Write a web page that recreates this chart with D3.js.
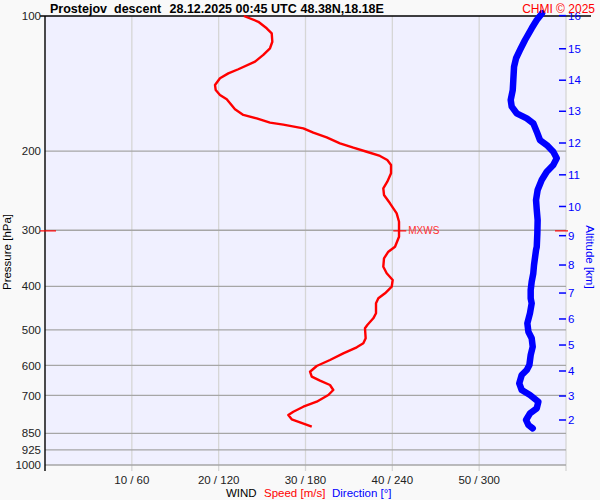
<!DOCTYPE html>
<html><head><meta charset="utf-8">
<script src="https://cdn.jsdelivr.net/npm/d3@7"></script>
<style>html,body{margin:0;padding:0;background:#f9f9f9;} svg{display:block;font-family:"Liberation Sans",Arial,sans-serif;}</style>
</head><body><svg id="c" width="600" height="500"></svg>
<script>
// ---------- data ----------
const pressureTicks = [100, 200, 300, 400, 500, 600, 700, 850, 925, 1000];
const speedGrid = [10, 20, 30, 40, 50, 60];
const speedTickLabels = [10, 20, 30, 40, 50];
const directionTickLabels = [60, 120, 180, 240, 300];
const altitudeKm = [2, 3, 4, 5, 6, 7, 8, 9, 10, 11, 12, 13, 14, 15, 16];
const altitudePressure = [793.9, 702.0, 617.5, 540.5, 472.9, 414.0, 358.6, 308.5, 265.6, 225.8, 191.8, 163.0, 139.0, 118.3, 99.8];

const speedPressure = [100, 103, 106.5, 109.3, 114.1, 118.0, 122.1, 126.4, 131.4, 134.2, 137.6, 142.5, 146.2, 149.9, 153.3, 156.5, 161.4, 166.1, 169.0, 172.8, 174.6, 177.9, 181.9, 186.3, 192.1, 196.5, 200.6, 205.0, 209.3, 214.7, 224.0, 233.9, 241.9, 250.4, 261.3, 275.1, 287.2, 310.1, 326.5, 334.9, 346.5, 361.7, 374.2, 387.3, 400.8, 414.6, 425.4, 436.4, 459.3, 471.3, 487.7, 496.0, 522.2, 535.8, 546.9, 564.0, 583.7, 601.9, 619.8, 635.8, 649.0, 663.5, 680.7, 698.4, 722.8, 741.6, 760.9, 773.9, 791.1, 803.4, 821.7];
const speedValues = [22.9, 24.57, 25.53, 26.11, 26.18, 25.91, 25.14, 24.19, 22.26, 21.11, 20.15, 19.58, 19.66, 20.15, 20.93, 21.31, 21.88, 22.84, 24.38, 25.91, 27.44, 29.75, 30.9, 32.44, 33.97, 35.51, 37.05, 38.58, 39.42, 39.85, 39.85, 39.42, 38.96, 39.04, 39.73, 40.5, 40.77, 40.77, 40.31, 39.54, 39.04, 38.96, 39.35, 40.04, 39.93, 39.16, 38.39, 38.12, 38.12, 37.81, 37.12, 36.85, 36.93, 36.66, 35.9, 34.35, 32.82, 31.29, 30.52, 30.72, 31.67, 32.82, 33.2, 32.63, 31.29, 29.75, 28.6, 28.02, 28.41, 29.37, 30.72];

const directionPressure = [98.6, 102.1, 106.5, 113.1, 119.1, 124.2, 129.7, 138.8, 146.2, 153.8, 159.2, 164.7, 169.0, 173.4, 181.0, 188.9, 193.8, 200.6, 207.5, 214.7, 222.2, 231.9, 244.1, 256.9, 270.4, 284.7, 304.8, 326.5, 332.0, 358.6, 374.2, 390.6, 407.6, 425.4, 436.4, 459.3, 483.5, 504.8, 522.2, 545.2, 568.9, 598.8, 614.4, 630.3, 658.0, 680.7, 698.4, 722.8, 747.7, 767.1, 793.9, 814.5, 828.5];
const directionValues = [343.5, 339.8, 336.3, 331.7, 328.2, 325.5, 324.1, 323.6, 323.2, 321.8, 322.5, 325.9, 332.9, 337.4, 339.8, 342.0, 346.7, 351.2, 353.6, 351.2, 346.7, 343.2, 340.4, 339.3, 339.8, 340.4, 340.2, 339.8, 339.3, 337.9, 337.4, 336.3, 335.6, 335.6, 336.3, 335.1, 333.3, 334.0, 336.3, 337.0, 335.6, 334.7, 332.9, 329.4, 327.7, 329.4, 335.1, 340.9, 339.8, 335.1, 332.4, 334.0, 337.0];

const maxWindPressure = 301;
const maxWindSpeed = 40.8;

// ---------- scales ----------
const svg = d3.select("#c");
const y = d3.scaleLog().domain([100, 1000]).range([16, 465]);
const xs = d3.scaleLinear().domain([0, 60]).range([45, 566]);
const xd = d3.scaleLinear().domain([0, 360]).range([45, 566]);

// plot background
svg.append("rect").attr("x", xs(0)).attr("y", y(100)).attr("width", xs(60) - xs(0)).attr("height", y(1000) - y(100)).attr("fill", "#f0f0ff");

// vertical grid
svg.append("g").selectAll("line").data(speedGrid).join("line")
  .attr("x1", d => xs(d)).attr("x2", d => xs(d)).attr("y1", y(100)).attr("y2", y(1000) + 6)
  .attr("stroke", "#d6d6d6").attr("stroke-width", 1.3);

// horizontal grid
svg.append("g").selectAll("line").data(pressureTicks.filter(d => d !== 100)).join("line")
  .attr("x1", xs(0)).attr("x2", xs(60)).attr("y1", d => y(d)).attr("y2", d => y(d))
  .attr("stroke", "#a6a6a6").attr("stroke-width", 1.3);

// top & left axis lines
svg.append("line").attr("x1", 40).attr("x2", 591).attr("y1", y(100)).attr("y2", y(100)).attr("stroke", "#000").attr("stroke-width", 1.4);
svg.append("line").attr("x1", xs(0)).attr("x2", xs(0)).attr("y1", y(100)).attr("y2", y(1000) + 6).attr("stroke", "#000").attr("stroke-width", 1.4);

// pressure labels
svg.append("g").selectAll("text").data(pressureTicks).join("text")
  .attr("x", 41).attr("y", d => y(d)).attr("dy", "0.36em").attr("text-anchor", "end")
  .attr("font-size", 11.5).attr("fill", "#222").text(d => d);

// wind tick labels
svg.append("g").selectAll("text").data(speedTickLabels).join("text")
  .attr("x", d => xs(d)).attr("y", 484).attr("text-anchor", "middle")
  .attr("font-size", 11.5).attr("fill", "#222").text((d, i) => d + " / " + directionTickLabels[i]);

// altitude axis
svg.append("g").selectAll("line").data(altitudePressure).join("line")
  .attr("x1", 559).attr("x2", 566).attr("y1", d => y(d)).attr("y2", d => y(d))
  .attr("stroke", "#0000ff").attr("stroke-width", 1.5);
svg.append("g").selectAll("text").data(altitudeKm).join("text")
  .attr("x", 568).attr("y", (d, i) => y(altitudePressure[i])).attr("dy", "0.36em")
  .attr("font-size", 11.5).attr("fill", "#0000ff").text(d => d);

// curves
const dirLine = d3.line().x((d, i) => xd(directionValues[i])).y((d, i) => y(directionPressure[i]));
svg.append("path").datum(directionPressure).attr("d", dirLine).attr("fill", "none")
  .attr("stroke", "#0000ff").attr("stroke-width", 6.5).attr("stroke-linejoin", "round").attr("stroke-linecap", "round");
const spdLine = d3.line().x((d, i) => xs(speedValues[i])).y((d, i) => y(speedPressure[i]));
svg.append("path").datum(speedPressure).attr("d", spdLine).attr("fill", "none")
  .attr("stroke", "#ff0000").attr("stroke-width", 2.4).attr("stroke-linejoin", "round");

// max wind markers
const ym = y(maxWindPressure);
svg.append("line").attr("x1", 40).attr("x2", 56).attr("y1", ym).attr("y2", ym).attr("stroke", "#ff0000").attr("stroke-width", 1.2);
svg.append("line").attr("x1", 555).attr("x2", 568).attr("y1", ym).attr("y2", ym).attr("stroke", "#ff0000").attr("stroke-width", 1.2);
svg.append("line").attr("x1", xs(maxWindSpeed) - 6).attr("x2", xs(maxWindSpeed) + 7).attr("y1", ym).attr("y2", ym).attr("stroke", "#ff0000").attr("stroke-width", 1.2);
svg.append("text").attr("x", xs(maxWindSpeed) + 9).attr("y", ym).attr("dy", "0.36em").attr("font-size", 10).attr("fill", "#ff3030").text("MXWS");

// title
const titleParts = ["Prostejov", "descent", "28.12.2025 00:45 UTC", "48.38N,18.18E"];
const titleX = [50, 114, 169.5, 300.5];
svg.append("g").selectAll("text").data(titleParts).join("text")
  .attr("x", (d, i) => titleX[i]).attr("y", 12.5).attr("font-size", 12.5).attr("font-weight", "bold").attr("fill", "#000").text(d => d);
svg.append("text").attr("x", 595).attr("y", 12.5).attr("text-anchor", "end").attr("font-size", 12).attr("fill", "#ff0000").text("CHMI © 2025");

// axis titles
svg.append("text").attr("transform", "translate(11,252) rotate(-90)").attr("text-anchor", "middle")
  .attr("font-size", 11.5).attr("fill", "#000").text("Pressure [hPa]");
svg.append("text").attr("transform", "translate(586,257) rotate(90)").attr("text-anchor", "middle")
  .attr("font-size", 11.5).attr("fill", "#0000ff").text("Altitude [km]");

// legend
svg.append("text").attr("x", 226).attr("y", 497).attr("font-size", 11.5).attr("fill", "#000").text("WIND");
svg.append("text").attr("x", 264).attr("y", 497).attr("font-size", 11.5).attr("fill", "#ff0000").text("Speed [m/s]");
svg.append("text").attr("x", 332).attr("y", 497).attr("font-size", 11.5).attr("fill", "#0000ff").text("Direction [°]");
</script></body></html>
